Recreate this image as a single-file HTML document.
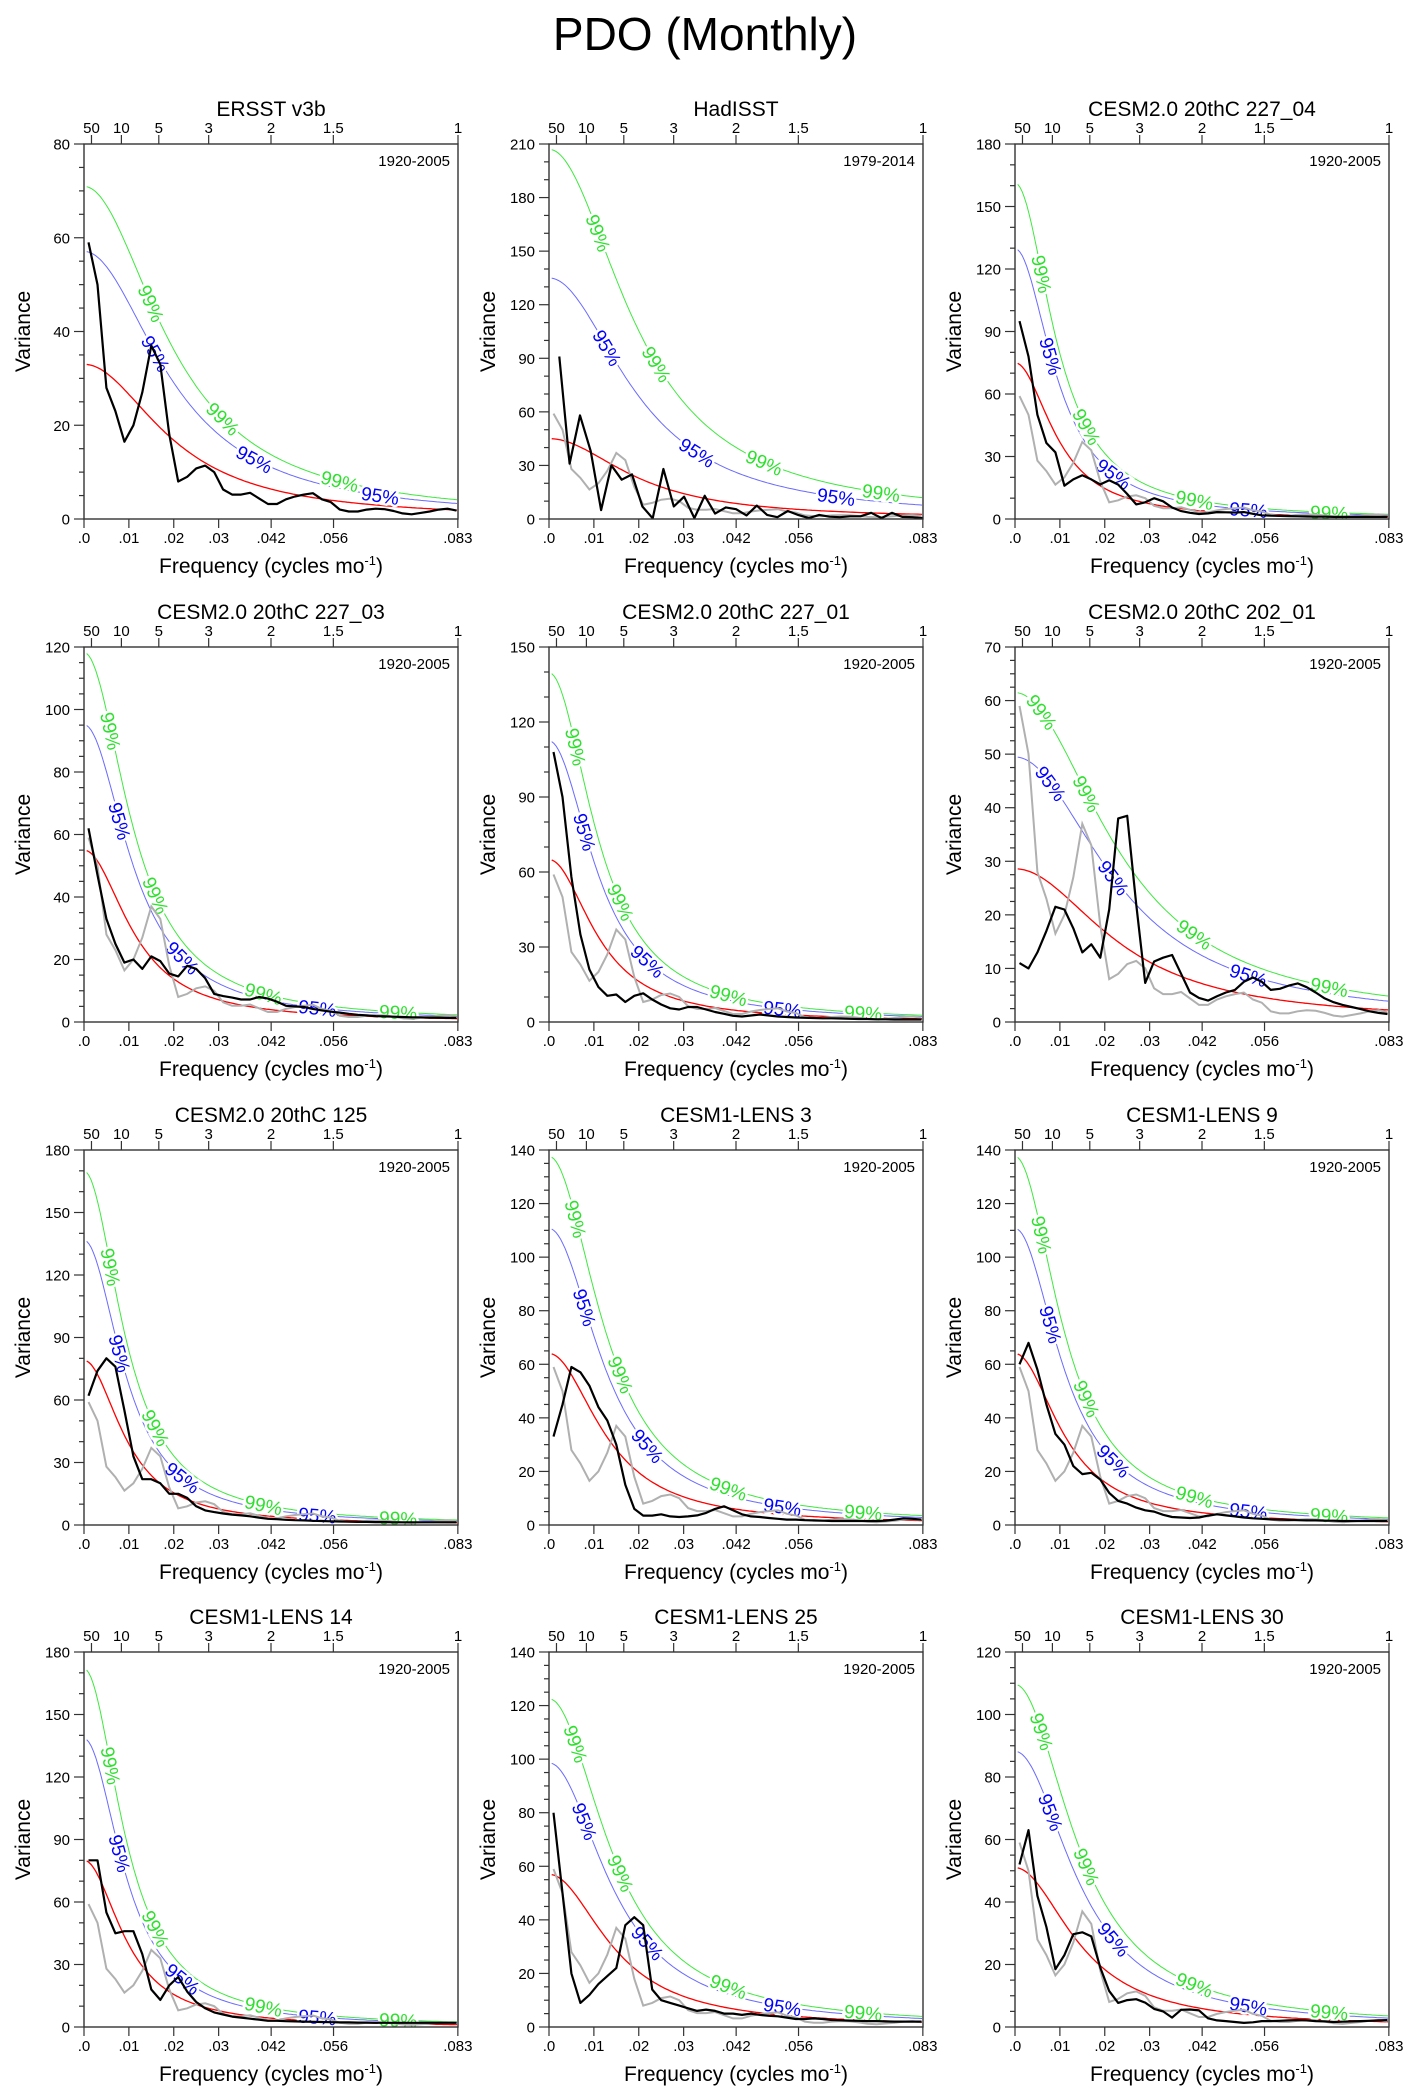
<!DOCTYPE html>
<html><head><meta charset="utf-8"><title>PDO (Monthly)</title>
<style>
html,body{margin:0;padding:0;background:#fff;}
svg{display:block;font-family:"Liberation Sans",Arial,sans-serif;}
</style></head>
<body>
<svg id="chart" width="1409" height="2095" viewBox="0 0 1409 2095" xmlns="http://www.w3.org/2000/svg">
<rect width="1409" height="2095" fill="#fff"/>
<text x="705" y="50" font-size="46" text-anchor="middle" fill="#000">PDO (Monthly)</text>
<g id="panels"></g>
</svg>
<script>
// ---------- data ----------
const panelTitles = ["ERSST v3b","HadISST","CESM2.0 20thC 227_04","CESM2.0 20thC 227_03","CESM2.0 20thC 227_01","CESM2.0 20thC 202_01","CESM2.0 20thC 125","CESM1-LENS 3","CESM1-LENS 9","CESM1-LENS 14","CESM1-LENS 25","CESM1-LENS 30"];
const periods = ["1920-2005","1979-2014","1920-2005","1920-2005","1920-2005","1920-2005","1920-2005","1920-2005","1920-2005","1920-2005","1920-2005","1920-2005"];
const yMax = [80,210,180,120,150,70,180,140,140,180,140,120];
const yStep = [20,30,30,20,30,10,30,20,20,30,20,20];
const yMinor = [5,10,10,5,10,2.5,10,5,5,10,5,5];
const red0 = [33,45,75,55,65,28.6,79,64,64,80,57,51];
const arCoef = [0.88,0.88,0.94,0.93,0.93,0.86,0.94,0.92,0.93,0.94,0.91,0.91];
const fac95 = [1.73,3.0,1.73,1.73,1.73,1.73,1.73,1.73,1.73,1.73,1.73,1.73];
const fac99 = [2.15,4.6,2.15,2.15,2.15,2.15,2.15,2.15,2.15,2.15,2.15,2.15];
const bottomTicks = [0,0.01,0.02,0.03,0.0417,0.0556,0.0833];
const bottomTickLabels = [".0",".01",".02",".03",".042",".056",".083"];
const topPeriods = [50,10,5,3,2,1.5,1];
const topTickLabels = ["50","10","5","3","2","1.5","1"];
const freqGrid = [.001,.003,.005,.007,.009,.011,.013,.015,.017,.019,.021,.023,.025,.027,.029,.031,.033,.035,.037,.039,.041,.043,.045,.047,.049,.051,.053,.055,.057,.059,.061,.063,.065,.067,.069,.071,.073,.075,.077,.079,.081,.083];
const freqHad = [.0023,.0046,.0069,.0093,.0116,.0139,.0162,.0185,.0208,.0231,.0255,.0278,.0301,.0324,.0347,.037,.0394,.0417,.044,.0463,.0486,.0509,.0532,.0556,.0579,.0602,.0625,.0648,.0671,.0694,.0718,.0741,.0764,.0787,.081,.0833];
const blackP1 = [59,50,28,23,16.5,20,27,37,33,18,8,9,10.8,11.4,10,6.3,5.2,5.2,5.6,4.4,3.2,3.2,4.2,4.8,5.2,5.5,4.2,3.6,2,1.6,1.6,2,2.2,2.1,1.7,1.2,1.0,1.3,1.6,2.0,2.2,1.8];
const blackP2 = [91,31,58,38,5,30,22,25,7,0.4,28,7,12.5,0.5,13,3,6.5,5.5,2,7.5,2.3,1,4.5,2.2,0.5,2.3,1.3,1,1.5,1.5,3.5,0.5,3.5,1.2,1,0.5];
const blackP3 = [95,78,50,36.5,32,16,19,21,19,16.6,18.6,16.5,12,7,8,10,8.5,5.5,3.8,3,2.4,2.7,3.3,3.2,3.1,3.3,2.5,1.8,1.6,1.5,1.4,1.3,1.2,1.1,1.1,1,1,1,1,1,1,1];
const blackP4 = [62,47,33,25,19,20,17,21,19.5,15.5,14.6,18,17,14,9,8.3,7.8,7.2,7.2,8,7.5,6.5,5.2,5,4.8,4.2,3.7,3.3,3,2.6,2.3,2.1,1.9,1.8,1.7,1.6,1.5,1.5,1.4,1.4,1.3,1.3];
const blackP5 = [108,90,58,35,21,14,10.5,11,8,10.5,11.5,9,7,5.5,5,6,6,5,4,3.3,2.5,2.2,2.6,3,2.6,2.2,2,1.8,1.7,1.6,1.5,1.5,1.4,1.3,1.2,1.2,1.1,1.1,1,1,1,1];
const blackP6 = [11,10,13,17,21.5,21,17.5,13,14.5,12,21,38,38.5,22,7.3,11.3,12,12.5,9,5.5,4.5,4,4.8,5.5,6,7.5,8.3,7.5,6,6.2,6.8,7.2,6.5,5.5,4.4,3.7,3.2,2.8,2.4,2,1.7,1.5];
const blackP7 = [62,74,80,76,55,33,22,22,20,15,15,13,9,7,6.2,5.5,5,4.6,4.2,3.5,3,2.8,2.5,2.3,2.2,2,1.9,1.8,1.7,1.6,1.5,1.5,1.4,1.4,1.3,1.3,1.3,1.3,1.3,1.3,1.3,1.3];
const blackP8 = [33,45,59,57,52,44,39,30,15,6,3.5,3.5,4,3.2,3,3.2,3.6,4.5,6,7,5.5,4,3.2,3,2.6,2.3,2,2,1.8,1.7,1.6,1.5,1.5,1.5,1.5,1.5,1.5,1.6,2,2.5,2.3,2];
const blackP9 = [60,68,58,45,34,30,22,19,19.5,17,12,9,8,6.5,5.5,5,3.8,3,2.8,2.6,2.8,3.5,4,3.6,3.2,2.8,2.5,2.3,2.1,2,1.9,1.8,1.7,1.7,1.6,1.6,1.5,1.5,1.5,1.5,1.5,1.5];
const blackP10 = [80,80,55,45,46,46,35,18,13,20,24,17,12,9,7,6,5,4.5,4,3.5,3,3,2.8,2.7,2.6,2.5,2.4,2.3,2.2,2.2,2.1,2.1,2,2,2,2,2,2,2,2,2,2];
const blackP11 = [80,50,20,9,12,16,19,22,38,41,38,14,10,9,8,7,6,6.5,6,5,5,4.5,5,4.5,4.2,4,3.5,3,3,3.2,3,2.6,2.5,2.4,2.3,2.2,2.2,2.1,2,2,2,2];
const blackP12 = [52,63,42,32,18.5,23,29.7,30.3,29,19,11.5,7.7,8.6,8.9,7.8,5.8,5,3,5.5,5.6,5.3,2.8,2.1,1.9,1.6,1.3,1.5,1.9,1.9,2,2.1,2.2,2.1,1.9,1.8,1.6,1.7,1.8,1.9,2,2.1,2.2];
const grayRef = blackP1;
const label99Obs = [0.015,0.031,0.057];
const label95Obs = [0.016,0.038,0.066];
const label99Had = [0.011,0.024,0.048,0.074];
const label95Had = [0.013,0.033,0.064];
const label99Model = [0.006,0.016,0.04,0.07];
const label95Model = [0.008,0.022,0.052];

// ---------- layout ----------
const colX = [84,549,1015];
const rowY = [144,647,1150,1652];
const PW = 374, PH = 375, FMAX = 1/12;
const NS = "http://www.w3.org/2000/svg";
const root = document.getElementById('panels');

function mk(tag, attrs, parent){
  const e = document.createElementNS(NS, tag);
  for (const k in attrs) e.setAttribute(k, attrs[k]);
  parent.appendChild(e);
  return e;
}
function redSpec(i, f){
  const a = arCoef[i];
  return red0[i]*(1-a)*(1-a)/(1-2*a*Math.cos(2*Math.PI*f)+a*a);
}

for (let i = 0; i < 12; i++){
  const blackSets = [blackP1,blackP2,blackP3,blackP4,blackP5,blackP6,blackP7,blackP8,blackP9,blackP10,blackP11,blackP12];
  const x0 = colX[i%3], y0 = rowY[Math.floor(i/3)];
  const xs = f => x0 + f/FMAX*PW;
  const ys = v => y0 + PH - Math.min(v, yMax[i])/yMax[i]*PH;
  const g = mk('g', {}, root);
  
  

  const cp = mk('clipPath', {id:'clip'+i}, g);
  mk('rect', {x:x0, y:y0, width:PW, height:PH}, cp);

  const t = mk('text', {x:x0+PW/2, y:y0-28, 'font-size':21, 'text-anchor':'middle', fill:'#000'}, g);
  t.textContent = panelTitles[i];
  
  
  const pr = mk('text', {x:x0+PW-8, y:y0+22, 'font-size':15, 'text-anchor':'end', fill:'#000'}, g);
  pr.textContent = periods[i];
  
  

  for (let v = 0; v <= yMax[i]+1e-6; v += yMinor[i]){
    const y = ys(v);
    const major = Math.abs(v/yStep[i] - Math.round(v/yStep[i])) < 1e-6;
    mk('line', {x1:x0-(major?10:5), x2:x0, y1:y, y2:y, stroke:'#333', 'stroke-width':1.2}, g);
    if (major){
      const tl = mk('text', {x:x0-14, y:y+5.5, 'font-size':15, 'text-anchor':'end', fill:'#000'}, g);
      tl.textContent = String(v);
      
      
    }
  }
  bottomTicks.forEach((f, k) => {
    const x = xs(f);
    mk('line', {x1:x, x2:x, y1:y0+PH, y2:y0+PH+9, stroke:'#333', 'stroke-width':1.2}, g);
    const tl = mk('text', {x:x, y:y0+PH+24, 'font-size':15, 'text-anchor':'middle', fill:'#000'}, g);
    tl.textContent = bottomTickLabels[k];
    
    
  });
  topPeriods.forEach((p, k) => {
    const x = xs(1/(12*p));
    mk('line', {x1:x, x2:x, y1:y0, y2:y0-9, stroke:'#333', 'stroke-width':1.2}, g);
    const tl = mk('text', {x:x, y:y0-11, 'font-size':15, 'text-anchor':'middle', fill:'#000'}, g);
    tl.textContent = topTickLabels[k];
    
    
  });
  const yt = mk('text', {x:0, y:0, 'font-size':21, 'text-anchor':'middle', fill:'#000', transform:`translate(${x0-54},${y0+PH/2}) rotate(-90)`}, g);
  yt.textContent = 'Variance';
  
  
  const xt = mk('text', {x:x0+PW/2, y:y0+PH+54, 'font-size':21, 'text-anchor':'middle', fill:'#000'}, g);
  xt.innerHTML = 'Frequency (cycles mo<tspan dy="-8" font-size="13">-1</tspan><tspan dy="8">)</tspan>';
  
  

  const plot = mk('g', {'clip-path':`url(#clip${i})`}, g);
  const curves = [[1,'#ff0000','red-noise-curve'],[fac95[i],'#6a6aff','conf95-curve'],[fac99[i],'#3ee83e','conf99-curve']];
  curves.forEach(([fac,col,name]) => {
    let d = '';
    for (let f = 0.0006; f <= FMAX+1e-9; f += 0.0005){
      d += (d?'L':'M') + xs(f).toFixed(1) + ',' + ys(redSpec(i,f)*fac).toFixed(1);
    }
    const p = mk('path', {d:d, fill:'none', stroke:col, 'stroke-width': name==='red-noise-curve'?1.3:1}, plot);
    
    
  });
  const addLabels = (freqs, fac, txt, col, nm) => {
    freqs.forEach(f => {
      const xa = xs(f), ya = ys(redSpec(i,f)*fac);
      const xb = xs(f+0.0005), yb = ys(redSpec(i,f+0.0005)*fac);
      if (redSpec(i,f)*fac > yMax[i]) return;
      const ang = Math.atan2(yb-ya, xb-xa)*180/Math.PI;
      const lt = mk('text', {x:0, y:0, 'font-size':19, 'text-anchor':'middle', fill:col, stroke:'#fff', 'stroke-width':5, 'paint-order':'stroke', transform:`translate(${xa.toFixed(1)},${ya.toFixed(1)}) rotate(${ang.toFixed(1)}) translate(0,7)`}, plot);
      lt.textContent = txt;
      
      
    });
  };
  const l99 = i === 0 ? label99Obs : (i === 1 ? label99Had : label99Model);
  const l95 = i === 0 ? label95Obs : (i === 1 ? label95Had : label95Model);
  addLabels(l99, fac99[i], '99%', '#2ee02e', 'conf99-label');
  addLabels(l95, fac95[i], '95%', '#0000ff', 'conf95-label');

  if (i > 0){
    let d = '';
    grayRef.forEach((v, k) => { d += (k?'L':'M') + xs(freqGrid[k]).toFixed(1) + ',' + ys(v).toFixed(1); });
    const p = mk('path', {d:d, fill:'none', stroke:'#b0b0b0', 'stroke-width':2}, plot);
    
    
  }
  const freqs = (i === 1) ? freqHad : freqGrid;
  let d = '';
  blackSets[i].forEach((v, k) => { d += (k?'L':'M') + xs(freqs[k]).toFixed(1) + ',' + ys(v).toFixed(1); });
  const bp = mk('path', {d:d, fill:'none', stroke:'#000', 'stroke-width':2.2, 'stroke-linejoin':'round'}, plot);
  
  

  const fr = mk('rect', {x:x0, y:y0, width:PW, height:PH, fill:'none', stroke:'#333', 'stroke-width':1.4}, g);
  
  
}
</script>
</body></html>
